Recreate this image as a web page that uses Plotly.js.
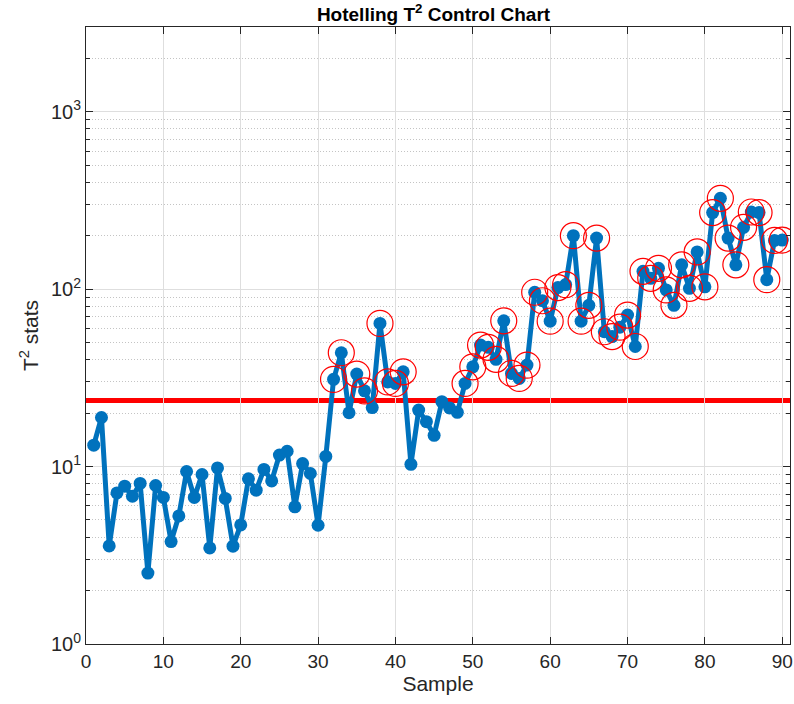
<!DOCTYPE html>
<html>
<head>
<meta charset="utf-8">
<script src="https://cdn.plot.ly/plotly-3.0.1.min.js"></script>
<style>html,body{margin:0;padding:0;background:#fff;}#chart{width:794px;height:704px;}</style>
</head>
<body>
<div id="chart"></div>
<script>
// T^2 statistic per sample (samples 1..90)
var t2Values = [
  13.2, 18.9, 3.57, 7.1, 7.75, 6.8, 8.03, 2.51, 7.82, 6.7,
  3.78, 5.27, 9.38, 6.7, 9.02, 3.48, 9.83, 6.61, 3.56, 4.69,
  8.53, 7.36, 9.63, 8.3, 11.6, 12.2, 5.93, 10.4, 9.14, 4.67,
  11.4, 31.0, 43.8, 20.1, 33.2, 26.7, 21.5, 64.1, 30.0, 29.4,
  34.2, 10.3, 20.8, 17.9, 15.0, 23.2, 21.4, 20.2, 29.4, 36.5,
  48.4, 47.0, 40.2, 66.3, 33.5, 31.4, 37.3, 96, 86, 66,
  102, 106, 200, 66, 81, 194, 57.5, 54, 61, 71.4,
  47.5, 126, 115, 131, 99, 81, 137, 101, 162, 103,
  270, 325, 194, 137, 223, 272, 270, 113, 188, 189
];
var samples = t2Values.map(function (v, i) { return i + 1; });
var ucl = 23.6;

var yTickVals = [1, 10, 100, 1000];
var yTickText = ["10<sup>0</sup>", "10<sup>1</sup>", "10<sup>2</sup>", "10<sup>3</sup>"];
var xTickVals = [0, 10, 20, 30, 40, 50, 60, 70, 80, 90];

// out-of-control points
var ocX = [], ocY = [];
samples.forEach(function (s, i) { if (t2Values[i] > ucl) { ocX.push(s); ocY.push(t2Values[i]); } });

// minor grid positions
var minorVals = [];
[1, 10, 100, 1000].forEach(function (d) {
  for (var k = 2; k <= 9; k++) { if (d * k < 3000) minorVals.push(d * k); }
});

var blue = '#0072BD';
var axisColor = '#262626';
var font = 'Liberation Sans, Arial, Helvetica, sans-serif';

var traces = [
  {
    x: samples, y: t2Values, type: 'scatter', mode: 'lines+markers',
    line: { color: blue, width: 5 },
    marker: { color: blue, size: 13 },
    hoverinfo: 'x+y', showlegend: false
  },
  {
    x: ocX, y: ocY, type: 'scatter', mode: 'markers',
    marker: { symbol: 'circle-open', color: '#FF0000', size: 26, line: { width: 1.2, color: '#FF0000' } },
    hoverinfo: 'x+y', showlegend: false
  }
];

var layout = {
  width: 794, height: 704,
  margin: { l: 86, r: 4, t: 27, b: 60 },
  paper_bgcolor: '#ffffff', plot_bgcolor: '#ffffff',
  font: { family: font, color: axisColor, size: 19 },
  title: {
    text: '<b>Hotelling T<sup>2</sup> Control Chart</b>',
    font: { family: font, size: 19, color: '#000000' },
    x: 0.546, xanchor: 'center', y: 0.979, yanchor: 'middle'
  },
  xaxis: {
    range: [0, 91], tickvals: xTickVals, ticktext: xTickVals.map(String),
    ticks: 'inside', ticklen: 7, tickcolor: axisColor, tickwidth: 1,
    showline: true, linecolor: axisColor, linewidth: 1, mirror: 'ticks',
    showgrid: true, gridcolor: '#dedede', gridwidth: 1, zeroline: false,
    tickfont: { family: font, size: 19, color: axisColor },
    title: { text: 'Sample', font: { family: font, size: 21, color: axisColor }, standoff: 4 }
  },
  yaxis: {
    type: 'log', range: [0, Math.log10(3000)],
    tickvals: yTickVals, ticktext: yTickText,
    ticks: 'inside', ticklen: 7, tickcolor: axisColor, tickwidth: 1,
    showline: true, linecolor: axisColor, linewidth: 1, mirror: 'ticks',
    showgrid: true, gridcolor: '#dedede', gridwidth: 1, zeroline: false,
    tickfont: { family: font, size: 20, color: axisColor },
    minor: { tickvals: minorVals, ticks: 'inside', ticklen: 4, tickcolor: axisColor,
             showgrid: true, gridcolor: '#c4c4c4', griddash: '1px,2px', gridwidth: 1 },
    title: { text: 'T<sup>2</sup> stats', font: { family: font, size: 21, color: axisColor }, standoff: 6 }
  },
  shapes: [
    { type: 'line', xref: 'paper', x0: 0, x1: 1, yref: 'y', y0: ucl, y1: ucl,
      line: { color: '#FF0000', width: 5 }, layer: 'below' }
  ]
};

Plotly.newPlot('chart', traces, layout, { displayModeBar: false, staticPlot: true });
</script>
</body>
</html>
